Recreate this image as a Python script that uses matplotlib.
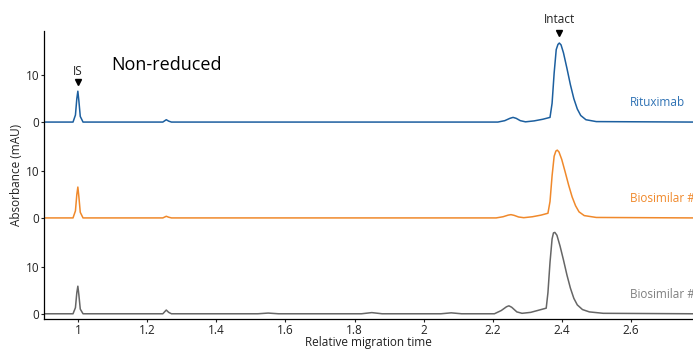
import matplotlib.pyplot as plt

plt.rcParams['font.family'] = ['Open Sans', 'DejaVu Sans']

# relative migration time / absorbance (mAU)
rituximab_x = [0.90, 0.985, 0.992, 0.996, 0.999, 1.002, 1.006, 1.014, 1.245, 1.255, 1.262, 1.27,
               2.215, 2.235, 2.25, 2.259, 2.268, 2.28, 2.295, 2.32, 2.345, 2.366, 2.372, 2.378,
               2.384, 2.389, 2.393, 2.398, 2.405, 2.415, 2.425, 2.435, 2.445, 2.455, 2.47, 2.50, 2.78]
rituximab_y = [0, 0, 1.5, 5.0, 6.6, 4.5, 1.2, 0, 0, 0.5, 0.2, 0,
               0, 0.3, 0.8, 1.0, 0.8, 0.3, 0.05, 0.25, 0.6, 1.0, 4.0, 10.5,
               15.5, 16.6, 16.9, 16.5, 14.8, 11.5, 8.0, 5.0, 2.8, 1.4, 0.5, 0.1, 0]

bio1_x = [0.90, 0.985, 0.992, 0.996, 0.999, 1.002, 1.006, 1.014, 1.245, 1.255, 1.262, 1.27,
          2.21, 2.23, 2.245, 2.253, 2.262, 2.275, 2.29, 2.315, 2.34, 2.36, 2.366, 2.372,
          2.378, 2.383, 2.387, 2.392, 2.40, 2.41, 2.42, 2.43, 2.44, 2.45, 2.465, 2.50, 2.78]
bio1_y = [0, 0, 1.5, 5.0, 6.6, 4.5, 1.2, 0, 0, 0.35, 0.15, 0,
          0, 0.25, 0.6, 0.7, 0.55, 0.2, 0.05, 0.25, 0.6, 1.0, 3.5, 9.0,
          13.2, 14.3, 14.5, 14.1, 12.5, 9.8, 7.0, 4.5, 2.6, 1.3, 0.5, 0.1, 0]

bio2_x = [0.90, 0.985, 0.992, 0.996, 0.999, 1.002, 1.006, 1.014, 1.245, 1.255, 1.262, 1.27,
          1.52, 1.55, 1.58, 1.82, 1.85, 1.88, 2.05, 2.08, 2.11,
          2.205, 2.225, 2.24, 2.247, 2.255, 2.27, 2.285, 2.31, 2.335, 2.355, 2.36, 2.366,
          2.372, 2.376, 2.38, 2.386, 2.395, 2.405, 2.415, 2.425, 2.435, 2.445, 2.46, 2.48, 2.52, 2.78]
bio2_y = [0, 0, 1.3, 4.5, 5.9, 4.0, 1.0, 0, 0, 0.8, 0.3, 0,
          0, 0.15, 0, 0, 0.25, 0, 0, 0.2, 0,
          0, 0.7, 1.5, 1.7, 1.4, 0.4, 0.1, 0.3, 0.8, 1.2, 4.5, 11.0,
          16.0, 17.3, 17.4, 16.8, 14.5, 11.5, 8.3, 5.5, 3.3, 1.9, 0.9, 0.4, 0.1, 0]

trace_names = ['Rituximab', 'Biosimilar #1', 'Biosimilar #2']
trace_colors = ['#1c5f9f', '#f0892b', '#666666']
label_colors = ['#2f72b4', '#f0892b', '#808080']
offsets = [41.0, 20.5, 0.0]

x_ticks = [1.0, 1.2, 1.4, 1.6, 1.8, 2.0, 2.2, 2.4, 2.6]
x_tick_labels = ['1', '1.2', '1.4', '1.6', '1.8', '2', '2.2', '2.4', '2.6']

fig = plt.figure(figsize=(6.93, 3.51), dpi=100)
ax = fig.add_axes([0.063, 0.091, 0.937, 0.821])

traces = [(rituximab_x, rituximab_y), (bio1_x, bio1_y), (bio2_x, bio2_y)]
for (xs, ys), off, col in zip(traces, offsets, trace_colors):
    ax.plot(xs, [v + off for v in ys], color=col, lw=1.1)

for name, off, col in zip(trace_names, offsets, label_colors):
    ax.text(2.597, off + 4.2, name, color=col, fontsize=8.5, va='center', ha='left', clip_on=False)

# peak markers
ax.plot([1.0], [offsets[0] + 8.5], marker='v', color='black', ms=4.5, clip_on=False)
ax.text(1.0, offsets[0] + 10.9, 'IS', fontsize=8.5, ha='center', va='center', color='#222222')
ax.plot([2.393], [offsets[0] + 19.1], marker='v', color='black', ms=4.5, clip_on=False)
ax.text(2.393, offsets[0] + 21.9, 'Intact', fontsize=8.5, ha='center', va='center',
        color='#222222', clip_on=False)
ax.text(1.257, offsets[0] + 12.1, 'Non-reduced', fontsize=13, ha='center', va='center', color='black')

ax.set_xlim(0.9, 2.78)
ax.set_ylim(-1.13, 60.5)
ax.set_xticks(x_ticks)
ax.set_xticklabels(x_tick_labels)
y_ticks = []
for off in offsets[::-1]:
    y_ticks += [off, off + 10]
ax.set_yticks(y_ticks)
ax.set_yticklabels(['0', '10'] * 3)
ax.tick_params(labelsize=8.5, length=2.5, width=0.8, pad=1, colors='#222222')
ax.tick_params(axis='y', pad=0.5)

for side in ['top', 'right']:
    ax.spines[side].set_visible(False)
for side in ['left', 'bottom']:
    ax.spines[side].set_linewidth(0.9)

ax.set_xlabel('Relative migration time', fontsize=8.5, labelpad=-1, color='#222222')
ax.set_ylabel('Absorbance (mAU)', fontsize=8.5, labelpad=2, color='#222222')

fig.savefig('out.png', dpi=100)
